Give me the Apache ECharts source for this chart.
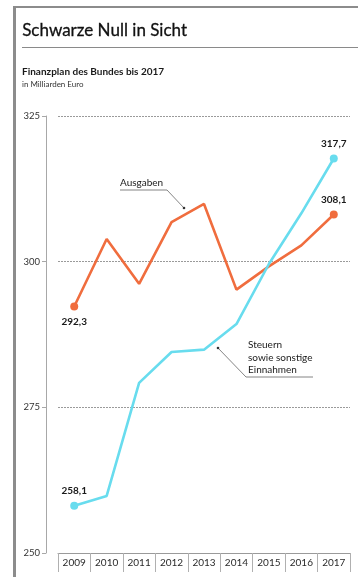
<!DOCTYPE html>
<html>
<head>
<meta charset="utf-8">
<script src="https://cdn.jsdelivr.net/npm/echarts@6/dist/echarts.min.js"></script>
<style>
  html, body { margin: 0; padding: 0; background: #ffffff; }
  #chart { width: 358px; height: 577px; }
</style>
</head>
<body>
<div id="chart"></div>
<script>
// Federal budget plan through 2017, in billions of euros
const years = ['2009', '2010', '2011', '2012', '2013', '2014', '2015', '2016', '2017'];
const ausgaben = [292.3, 303.9, 296.2, 306.8, 309.9, 295.2, 299.2, 302.8, 308.1];
const einnahmen = [258.1, 259.8, 279.2, 284.5, 284.9, 289.3, 299.6, 308.3, 317.7];
const yTicks = [250, 275, 300, 325];

const FONT = 'Lato, "Open Sans", sans-serif';
const ORANGE = '#f06d3e';
const CYAN = '#68dcee';

const fmt = v => v.toFixed(1).replace('.', ',');

// Show a dot and a value label only on the first and last year
function endpoints(values, firstPos, lastPos) {
  const last = values.length - 1;
  return values.map((v, i) => {
    if (i === 0 || i === last) {
      return {
        value: v,
        symbolSize: 8,
        label: {
          show: true,
          position: i === 0 ? firstPos : lastPos,
          distance: 6,
          formatter: p => fmt(p.value),
          fontFamily: FONT,
          fontSize: 10,
          fontWeight: 'bold',
          color: '#1a1a1a'
        }
      };
    }
    return { value: v, symbolSize: 0 };
  });
}

const chart = echarts.init(document.getElementById('chart'), null, { renderer: 'canvas' });

chart.setOption({
  backgroundColor: '#ffffff',
  animation: false,
  grid: { left: 58, right: 8, top: 116, bottom: 24, containLabel: false },
  xAxis: {
    type: 'category',
    data: years,
    boundaryGap: true,
    axisLine: { show: true, lineStyle: { color: '#9a9a9a', width: 1 } },
    axisTick: { show: true, interval: 0, length: 19, inside: false, lineStyle: { color: '#b0b0b0', width: 1 } },
    axisLabel: { interval: 0, margin: 5, fontFamily: FONT, fontSize: 10, color: '#2a2a2a' },
    splitLine: { show: false }
  },
  yAxis: {
    type: 'value',
    min: yTicks[0],
    max: yTicks[yTicks.length - 1],
    interval: 25,
    offset: 12,
    axisLine: { show: true, lineStyle: { color: '#a8a8a8', width: 1 } },
    axisTick: { show: true, length: 4, lineStyle: { color: '#a8a8a8' } },
    axisLabel: { margin: 6, fontFamily: FONT, fontSize: 9.5, color: '#333' },
    splitLine: {
      show: true,
      lineStyle: { color: '#9a9a9a', type: [2, 1], width: 1 }
    }
  },
  series: [
    {
      name: 'Ausgaben',
      type: 'line',
      data: endpoints(ausgaben, 'bottom', 'top'),
      symbol: 'circle',
      showSymbol: true,
      color: ORANGE,
      lineStyle: { color: ORANGE, width: 2.6 },
      itemStyle: { color: ORANGE },
      z: 3
    },
    {
      name: 'Steuern sowie sonstige Einnahmen',
      type: 'line',
      data: endpoints(einnahmen, 'top', 'top'),
      symbol: 'circle',
      showSymbol: true,
      color: CYAN,
      lineStyle: { color: CYAN, width: 2.6 },
      itemStyle: { color: CYAN },
      z: 4
    }
  ],
  graphic: [
    // frame: grey bar on the left and along the top
    { type: 'rect', shape: { x: 13, y: 6, width: 3, height: 571 }, style: { fill: '#8c8c8c' }, silent: true },
    { type: 'rect', shape: { x: 13, y: 6, width: 345, height: 2 }, style: { fill: '#8c8c8c' }, silent: true },
    // heading and rule
    { type: 'text', left: 22, top: 22, style: { text: 'Schwarze Null in Sicht', font: '17px ' + FONT, fill: '#111', stroke: '#111', lineWidth: 0.3 } },
    { type: 'rect', shape: { x: 22, y: 47, width: 336, height: 1 }, style: { fill: '#8a8a8a' }, silent: true },
    { type: 'text', left: 22, top: 67, style: { text: 'Finanzplan des Bundes bis 2017', font: 'bold 10px ' + FONT, fill: '#1a1a1a' } },
    { type: 'text', left: 22, top: 80, style: { text: 'in Milliarden Euro', font: '8px ' + FONT, fill: '#333' } },
    // series annotations with leader lines
    { type: 'text', left: 120, top: 178, style: { text: 'Ausgaben', font: '10px ' + FONT, fill: '#1a1a1a' } },
    { type: 'polyline', shape: { points: [[120, 190], [167, 190], [184, 208]] }, style: { stroke: '#666', lineWidth: 0.8, fill: null } },
    { type: 'circle', shape: { cx: 184, cy: 208, r: 1.3 }, style: { fill: '#333' } },
    {
      type: 'text', left: 248, top: 339,
      style: { text: 'Steuern\nsowie sonstige\nEinnahmen', font: '10px ' + FONT, lineHeight: 12.5, fill: '#1a1a1a' }
    },
    { type: 'polyline', shape: { points: [[218, 348], [246, 377], [313, 377]] }, style: { stroke: '#666', lineWidth: 0.8, fill: null } },
    { type: 'circle', shape: { cx: 218, cy: 348, r: 1.3 }, style: { fill: '#333' } }
  ]
});
</script>
</body>
</html>
